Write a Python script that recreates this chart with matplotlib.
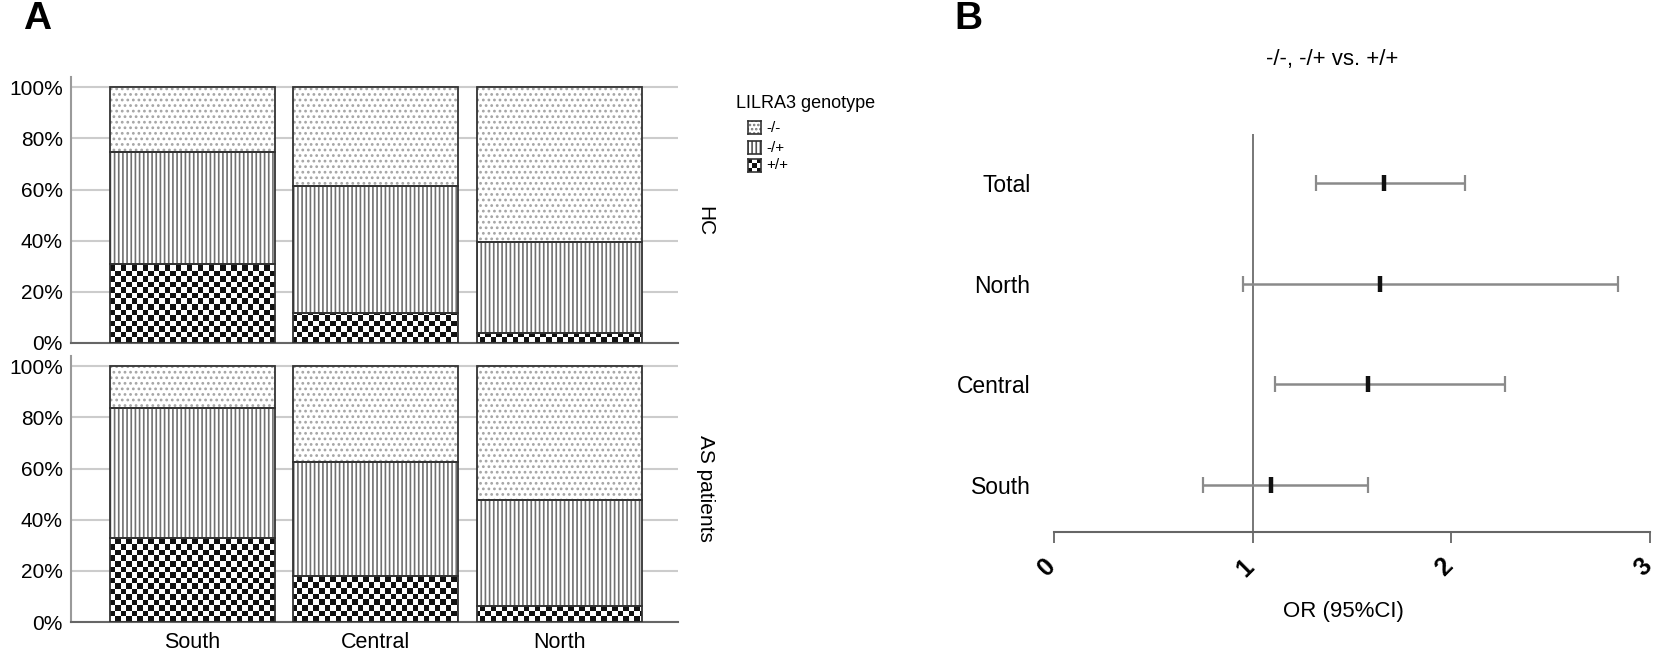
import numpy as np
import matplotlib
matplotlib.use('Agg')
import matplotlib.pyplot as plt
import matplotlib.transforms as mtransforms
from matplotlib.colors import ListedColormap

W, H = 1654, 652
DPI = 100

plt.rcParams['font.family'] = ['Liberation Sans', 'DejaVu Sans']
plt.rcParams['hatch.linewidth'] = 1.2

regions = ['South', 'Central', 'North']
groups = ['HC', 'AS patients']
genotypes = ['-/-', '-/+', '+/+']

# genotype shares per region (stacked from the bottom: +/+, -/+, -/-)
hc_pp = [0.307, 0.117, 0.040]
hc_mp = [0.440, 0.498, 0.355]
hc_mm = [0.253, 0.385, 0.605]
as_pp = [0.328, 0.180, 0.062]
as_mp = [0.508, 0.447, 0.416]
as_mm = [0.164, 0.373, 0.522]

# forest plot, -/-, -/+ vs. +/+
rows = ['Total', 'North', 'Central', 'South']
or_est = [1.66, 1.64, 1.58, 1.09]
ci_low = [1.32, 0.95, 1.11, 0.75]
ci_high = [2.07, 2.84, 2.27, 1.58]

CHECK = ListedColormap(['#111111', '#ffffff'])
BAR_W = 0.9
CELL = 5.5  # checker cell in pixels


def px_box(left, top, right, bottom):
    return [left / W, 1 - bottom / H, (right - left) / W, (bottom - top) / H]


def checker_fill(ax, patch, w_px, h_px):
    x0, x1 = ax.get_xlim()
    y0, y1 = ax.get_ylim()
    nx = int(round(w_px / CELL))
    ny = int(round(h_px / CELL))
    board = np.add.outer(np.arange(ny), np.arange(nx)) % 2
    im = ax.imshow(board, cmap=CHECK, vmin=0, vmax=1, extent=(x0, x1, y0, y1),
                   aspect='auto', interpolation='nearest', origin='lower', zorder=2)
    im.set_clip_path(patch)
    ax.set_xlim(x0, x1)
    ax.set_ylim(y0, y1)


def stacked_panel(ax, pp, mp, mm, show_x):
    x = np.arange(len(regions))
    pp = np.array(pp)
    mp = np.array(mp)
    mm = np.array(mm)
    ax.set_xlim(-0.663, 2.649)
    ax.set_ylim(0, 1.04)

    b_pp = ax.bar(x, pp, width=BAR_W, color='white', edgecolor='none', zorder=2)
    for p in b_pp:
        checker_fill(ax, p, 607, 266)
    ax.bar(x, mp, bottom=pp, width=BAR_W, facecolor='white', edgecolor='#707070',
           hatch='||||', linewidth=0, zorder=2)
    ax.bar(x, mm, bottom=pp + mp, width=BAR_W, facecolor='white', edgecolor='#a5a5a5',
           hatch='...', linewidth=0, zorder=2)
    for vals, base in [(pp, 0), (mp, pp), (mm, pp + mp)]:
        ax.bar(x, vals, bottom=base, width=BAR_W, fill=False, edgecolor='#333333',
               linewidth=1.3, zorder=4)

    ax.set_yticks([0, 0.2, 0.4, 0.6, 0.8, 1.0])
    ax.set_yticklabels(['0%', '20%', '40%', '60%', '80%', '100%'], fontsize=15)
    ax.yaxis.grid(True, color='#cccccc', linewidth=1.5)
    ax.set_axisbelow(True)
    ax.tick_params(axis='y', length=0, pad=6)
    ax.set_xticks(x)
    if show_x:
        ax.set_xticklabels(regions, fontsize=15.5)
    else:
        ax.set_xticklabels([])
    ax.tick_params(axis='x', length=0, pad=7)
    for s in ['top', 'right']:
        ax.spines[s].set_visible(False)
    ax.spines['left'].set_color('#9a9a9a')
    ax.spines['left'].set_linewidth(1.5)
    ax.spines['bottom'].set_color('#666666')
    ax.spines['bottom'].set_linewidth(1.5)


fig = plt.figure(figsize=(W / DPI, H / DPI), dpi=DPI)

ax_hc = fig.add_axes(px_box(71, 77, 678, 343))
stacked_panel(ax_hc, hc_pp, hc_mp, hc_mm, False)
ax_as = fig.add_axes(px_box(71, 356, 678, 622))
stacked_panel(ax_as, as_pp, as_mp, as_mm, True)

fig.text(705 / W, 1 - 221 / H, groups[0], rotation=270, fontsize=15, ha='center', va='center')
fig.text(705 / W, 1 - 488 / H, groups[1], rotation=270, fontsize=15, ha='center', va='center')

# legend
fig.text(736 / W, 1 - 103 / H, 'LILRA3 genotype', fontsize=13, ha='left', va='center')
key_tops = [121, 141, 159]
for i, g in enumerate(genotypes):
    t = key_tops[i]
    kax = fig.add_axes(px_box(748, t, 761, t + 13))
    kax.set_xlim(0, 1)
    kax.set_ylim(0, 1)
    kax.set_xticks([])
    kax.set_yticks([])
    if g == '+/+':
        board = np.add.outer(np.arange(3), np.arange(3)) % 2
        kax.imshow(board, cmap=CHECK, vmin=0, vmax=1, extent=(0, 1, 0, 1),
                   aspect='auto', interpolation='nearest')
    elif g == '-/+':
        kax.bar(0.5, 1, width=1, facecolor='white', edgecolor='#555555', hatch='||||', linewidth=0)
    else:
        kax.bar(0.5, 1, width=1, facecolor='white', edgecolor='#777777', hatch='....', linewidth=0)
    for s in kax.spines.values():
        s.set_color('#333333')
        s.set_linewidth(1.2)
    fig.text(766 / W, 1 - (t + 6.5) / H, g, fontsize=11, ha='left', va='center')

# forest plot
fax = fig.add_axes(px_box(1054, 134, 1650, 532))
ypos = np.arange(len(rows), 0, -1)
est = np.array(or_est)
lo = np.array(ci_low)
hi = np.array(ci_high)
fax.axvline(1, color='#777777', linewidth=1.4, zorder=1)
fax.errorbar(est, ypos, xerr=[est - lo, hi - est], fmt='none', ecolor='#8a8a8a',
             elinewidth=1.8, capsize=6, capthick=1.6, zorder=2)
fax.plot(est, ypos, ls='none', marker='|', ms=12, mew=3.2, color='#111111', zorder=3)
fax.set_xlim(0, 3)
fax.set_ylim(0.533, 4.487)
fax.set_xticks([0, 1, 2, 3])
fax.set_xticklabels(['0', '1', '2', '3'], rotation=45, fontsize=18, fontweight='bold')
fax.tick_params(axis='x', length=8, width=1.3, color='#666666', pad=8)
shift = mtransforms.ScaledTranslation(-7 / DPI, 0, fig.dpi_scale_trans)
for lab in fax.get_xticklabels():
    lab.set_transform(lab.get_transform() + shift)
fax.set_yticks(ypos)
fax.set_yticklabels(rows, fontsize=16.5)
fax.tick_params(axis='y', length=0, pad=17)
for s in ['top', 'right', 'left']:
    fax.spines[s].set_visible(False)
fax.spines['bottom'].set_color('#666666')
fax.spines['bottom'].set_linewidth(1.5)

fig.text(1332 / W, 1 - 60 / H, '-/-, -/+ vs. +/+', fontsize=16, ha='center', va='center')
fig.text(1343 / W, 1 - 612 / H, 'OR (95%CI)', fontsize=16, ha='center', va='center')

fig.text(37 / W, 1 - 19 / H, 'A', fontsize=28, fontweight='bold', ha='center', va='center')
fig.text(968 / W, 1 - 19 / H, 'B', fontsize=28, fontweight='bold', ha='center', va='center')

fig.savefig('out.png', dpi=DPI)
